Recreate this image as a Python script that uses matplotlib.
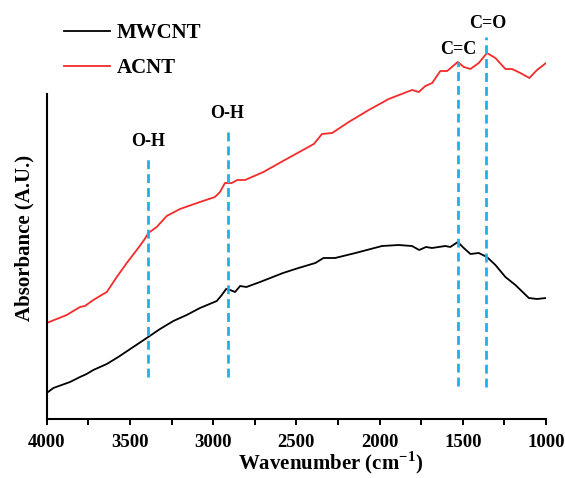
import matplotlib
matplotlib.use("Agg")
import matplotlib.pyplot as plt
from matplotlib.ticker import MultipleLocator

plt.rcParams['font.family'] = ['Liberation Serif', 'DejaVu Serif']
plt.rcParams['font.weight'] = 'bold'
plt.rcParams['mathtext.fontset'] = 'custom'
plt.rcParams['mathtext.rm'] = 'Liberation Serif:bold'
plt.rcParams['mathtext.bf'] = 'Liberation Serif:bold'

# ACNT spectrum (red)
acnt_wn = [4000, 3880, 3800, 3770, 3720, 3670, 3639, 3579, 3519, 3459, 3415, 3389, 3339, 3279,
           3199, 3079, 2989, 2959, 2929, 2888, 2855, 2808, 2698, 2580, 2395, 2346, 2285, 2185,
           2065, 1945, 1805, 1764, 1725, 1684, 1635, 1594, 1530, 1494, 1454, 1404, 1355, 1304,
           1244, 1204, 1154, 1100, 1054, 1000]
acnt_abs = [0.96, 1.04, 1.12, 1.13, 1.19, 1.24, 1.27, 1.42, 1.56, 1.69, 1.79, 1.86, 1.92, 2.03,
            2.10, 2.17, 2.22, 2.27, 2.36, 2.36, 2.39, 2.39, 2.47, 2.58, 2.75, 2.85, 2.86, 2.97,
            3.09, 3.20, 3.29, 3.27, 3.33, 3.36, 3.48, 3.48, 3.57, 3.52, 3.50, 3.56, 3.66, 3.61,
            3.50, 3.50, 3.46, 3.41, 3.49, 3.56]

# MWCNT spectrum (black)
mwcnt_wn = [4000, 3960, 3860, 3800, 3760, 3720, 3639, 3570, 3480, 3399, 3319, 3239, 3159, 3079,
            2978, 2948, 2922, 2898, 2868, 2838, 2800, 2718, 2580, 2487, 2386, 2337, 2267, 2145,
            1985, 1885, 1805, 1762, 1721, 1685, 1605, 1575, 1530, 1494, 1454, 1404, 1355, 1304,
            1244, 1184, 1103, 1054, 1000]
mwcnt_abs = [0.26, 0.31, 0.37, 0.42, 0.45, 0.49, 0.55, 0.62, 0.72, 0.81, 0.90, 0.98, 1.04, 1.11,
             1.18, 1.24, 1.30, 1.29, 1.27, 1.33, 1.32, 1.37, 1.46, 1.51, 1.56, 1.61, 1.61, 1.66,
             1.73, 1.74, 1.73, 1.69, 1.72, 1.71, 1.73, 1.72, 1.77, 1.71, 1.65, 1.66, 1.62, 1.54,
             1.42, 1.34, 1.21, 1.20, 1.21]

# Peak markers
peak_wn = [3390, 2910, 1530, 1360]
peak_labels = ['O-H', 'O-H', 'C=C', 'C=O']
peak_low = [0.42, 0.42, 0.33, 0.32]
peak_high = [2.61, 2.92, 3.57, 3.82]
label_wn = [3390, 2915, 1530, 1348]
label_y = [2.77, 3.05, 3.70, 3.96]

xticks = [4000, 3500, 3000, 2500, 2000, 1500, 1000]

fig = plt.figure(figsize=(5.65, 4.78), dpi=100)
ax = fig.add_axes([46.7/565, 59/478, 499.3/565, 419/478])

ax.plot(mwcnt_wn, mwcnt_abs, color='black', lw=1.3, label='MWCNT')
ax.plot(acnt_wn, acnt_abs, color='#f52a2a', lw=1.3, label='ACNT')

for w, lo, hi in zip(peak_wn, peak_low, peak_high):
    ax.plot([w, w], [lo, hi], color='#22b0e8', lw=2.0, ls=(0, (3.2, 1.8)))
for lw_, ly, lab in zip(label_wn, label_y, peak_labels):
    ax.text(lw_, ly, lab, ha='center', va='center', fontsize=13, fontweight='bold')

ax.set_xlim(4000, 1000)
ax.set_ylim(0, 4.19)
ax.set_xticks(xticks)
ax.xaxis.set_minor_locator(MultipleLocator(250))
ax.tick_params(axis='x', which='both', direction='out', length=4, width=1.4, labelsize=13.5, pad=6.5)
ax.set_yticks([])
for lab in ax.get_xticklabels():
    lab.set_fontweight('bold')

ax.spines['top'].set_visible(False)
ax.spines['right'].set_visible(False)
ax.spines['left'].set_bounds(0, 3.25)
ax.spines['left'].set_linewidth(1.5)
ax.spines['bottom'].set_linewidth(1.5)

ax.set_xlabel('Wavenumber (cm$^{\\mathbf{-1}}$)', fontsize=15, fontweight='bold')
ax.xaxis.set_label_coords(0.569, -0.072)
ax.set_ylabel('Absorbance (A.U.)', fontsize=15, fontweight='bold')
ax.yaxis.set_label_coords(-0.025, 0.433)

leg = ax.legend(loc='upper left', bbox_to_anchor=(64/565, 0.951), bbox_transform=fig.transFigure,
                frameon=False, borderpad=0, borderaxespad=0,
                prop={'family': 'Liberation Serif', 'weight': 'bold', 'size': 15},
                handlelength=2.2, handletextpad=0.34, labelspacing=0.72)

fig.savefig('out.png', dpi=100)
